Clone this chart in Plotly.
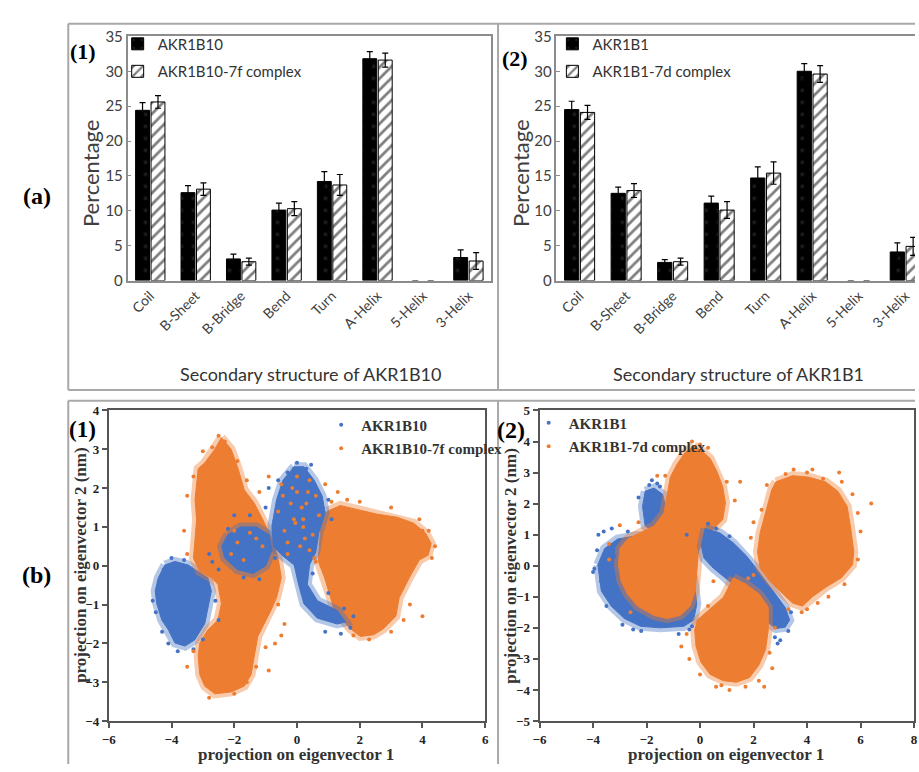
import plotly.graph_objects as go

W, H = 919, 772


def px(x):
    return x / W


def py(y):
    return 1 - y / H


# ---------------- data: secondary structure (panel a) ----------------
categories = ["Coil", "B-Sheet", "B-Bridge", "Bend", "Turn", "A-Helix", "5-Helix", "3-Helix"]
akr1b10 = [24.4, 12.6, 3.1, 10.1, 14.2, 31.8, 0, 3.3]
akr1b10_err = [1.1, 1.0, 0.7, 1.0, 1.4, 1.0, 0, 1.1]
akr1b10_7f = [25.6, 13.1, 2.7, 10.3, 13.7, 31.6, 0, 2.8]
akr1b10_7f_err = [0.9, 0.9, 0.5, 1.0, 1.5, 1.0, 0, 1.2]
akr1b1 = [24.5, 12.5, 2.6, 11.1, 14.7, 30.0, 0, 4.1]
akr1b1_err = [1.2, 0.9, 0.4, 1.0, 1.6, 1.1, 0, 1.3]
akr1b1_7d = [24.1, 12.9, 2.7, 10.1, 15.4, 29.6, 0, 4.9]
akr1b1_7d_err = [1.0, 1.0, 0.5, 1.2, 1.6, 1.2, 0, 1.3]
pct_ticks = [0, 5, 10, 15, 20, 25, 30, 35]

# ---------------- data: PCA projections (panel b), cloud outlines + sparse points ----------------
# b(1) AKR1B10 (blue) clouds
b1_blue_left = [(-4.21, 0.02), (-3.89, 0.11), (-3.47, 0.02), (-3.15, -0.15), (-2.84, -0.31), (-2.73, -0.65),
                (-2.84, -1.07), (-2.94, -1.49), (-3.26, -1.91), (-3.57, -2.07), (-3.89, -1.99), (-4.10, -1.65),
                (-4.31, -1.40), (-4.47, -0.98), (-4.52, -0.65), (-4.42, -0.31)]
b1_blue_center = [(-0.09, 2.55), (0.22, 2.55), (0.55, 2.2), (0.80, 1.80), (0.90, 1.36), (0.70, 0.86),
                  (0.60, 0.36), (0.40, 0.02), (0.33, -0.48), (0.65, -0.90), (1.28, -1.15), (1.55, -1.45),
                  (1.28, -1.50), (0.65, -1.35), (0.22, -0.98), (0.05, -0.48), (-0.09, 0.02), (-0.45, 0.25),
                  (-0.75, 0.50), (-0.80, 1.03), (-0.65, 1.70), (-0.45, 2.20)]
b1_blue_middle = [(-2.2, 0.8), (-1.8, 1.0), (-1.3, 1.0), (-0.9, 0.8), (-0.8, 0.4), (-1.0, 0.0),
                  (-1.4, -0.2), (-1.9, -0.1), (-2.3, 0.2), (-2.4, 0.5)]
# b(1) AKR1B10-7f complex (orange) clouds
b1_orange_left = [(-2.41, 3.30), (-2.10, 3.00), (-1.89, 2.53), (-1.68, 1.95), (-1.36, 1.61), (-1.04, 1.11),
                  (-0.80, 0.69), (-0.60, 0.19), (-0.50, -0.31), (-0.65, -0.82), (-0.83, -1.15), (-1.04, -1.49),
                  (-1.25, -1.82), (-1.36, -2.32), (-1.46, -2.80), (-1.68, -3.10), (-2.10, -3.25), (-2.62, -3.30),
                  (-2.94, -3.10), (-3.10, -2.80), (-3.15, -2.32), (-3.10, -1.99), (-2.84, -1.65), (-2.52, -1.40),
                  (-2.41, -0.98), (-2.52, -0.48), (-2.73, -0.31), (-3.10, -0.15), (-3.30, 0.19), (-3.25, 0.69),
                  (-3.20, 1.19), (-3.25, 1.70), (-3.20, 2.20), (-3.15, 2.50), (-2.94, 2.65), (-2.62, 3.00)]
b1_orange_right = [(0.96, 1.40), (1.38, 1.55), (1.91, 1.45), (2.54, 1.33), (3.18, 1.25), (3.71, 1.10),
                   (4.10, 0.84), (4.28, 0.57), (4.18, 0.27), (3.90, 0.15), (3.58, -0.31), (3.26, -0.82),
                   (3.15, -1.30), (2.76, -1.62), (2.44, -1.78), (2.02, -1.82), (1.70, -1.62), (1.38, -1.30),
                   (1.17, -1.12), (1.07, -0.82), (0.88, -0.31), (0.68, 0.11), (0.72, 0.69), (0.77, 1.11)]
b1_blue_pts_x = [-4.5, -4.3, -4.1, -3.8, -4.4, -4.0, -3.6, -2.6, -2.5, -3.0, 0.0, -0.1, 0.3, -0.9, -0.6, 1.0,
                 1.1, 0.5, 1.7, 1.4, 1.8, 0.9, -2.8, -2.0, -1.5, -1.0, -2.9, -2.7, 0.1, 1.2, -2.2, -1.7,
                 -1.2, -2.5, -0.7, -4.6, -4.25, -3.3, 0.45, -0.3, 1.0, 1.5]
b1_blue_pts_y = [-1.2, -1.7, -2.0, -2.2, -0.4, 0.2, 0.15, -0.9, -1.4, -1.9, 2.65, 2.5, 2.5, 2.0, 2.2, 1.7,
                 1.2, -0.2, -1.6, -1.75, -1.3, -1.7, 0.3, 1.3, 1.3, 1.5, -0.5, 0.1, 2.4, -1.4, 0.95, -0.3,
                 -0.35, -0.1, 0.2, -0.9, -0.1, -2.15, 2.6, 2.4, -0.7, -1.1]
b1_orange_pts_x = [-2.5, -2.3, -2.2, -2.7, -3.0, -3.3, -3.5, -3.6, -3.5, -1.9, -1.6, -1.2, -0.9, -0.5, 0.0,
                   0.4, 0.6, 1.3, 0.9, -0.2, 0.2, -0.4, 0.5, 0.1, -0.3, 0.3, -0.6, 0.7, 4.4, 4.3, 4.0, 3.4,
                   3.0, 2.3, 1.8, 2.7, -0.6, -0.4, -0.7, -1.0, -1.3, -2.8, -3.3, -3.5, -2.0, -1.6, 4.0, 3.6,
                   -0.5, -0.9, 0.0, 0.2, -0.1, 0.4, -0.3, 0.6, 0.35, -0.45, -1.9, -1.5, -1.1, -2.1, -1.7,
                   -1.3, -2.0, 0.15, -0.15, 0.55, 0.25, -0.05, 1.6, 1.1, 2.0, 3.0, 3.9, 4.2]
b1_orange_pts_y = [3.35, 3.2, 3.0, 3.05, 2.95, 2.3, 1.8, 0.9, 0.3, 2.7, 2.2, 1.9, 2.3, 2.1, 2.3,
                   2.2, 1.8, 1.9, 2.1, 1.6, 1.2, 0.9, 0.8, 0.5, 0.3, 1.6, 1.4, 1.3, 0.5, 0.2, 0.9, -1.4,
                   -1.7, -1.9, -1.8, -1.55, -1.0, -1.5, -2.0, -2.1, -2.6, -3.4, -2.2, -2.6, -3.3, -3.0, -1.3,
                   -1.0, -1.8, -2.7, 1.9, 1.0, 1.2, 0.4, 0.6, 0.1, 1.9, 1.8, 0.6, 0.85, 0.5, 0.3, 0.15,
                   0.7, 0.9, 1.5, 2.0, 0.2, 0.7, 1.1, 1.7, 1.65, 1.65, 1.5, 1.2, 0.9]

# b(2) AKR1B1 (blue) clouds
b2_blue_left = [(-3.82, 0.03), (-3.57, 0.55), (-3.08, 0.86), (-2.34, 0.97), (-1.48, 0.86), (-0.74, 0.45),
                (-0.24, -0.39), (-0.12, -1.23), (-0.24, -1.75), (-0.61, -1.95), (-1.48, -2.0), (-2.22, -1.95),
                (-2.83, -1.70), (-3.32, -1.30), (-3.69, -0.81)]
b2_blue_upper = [(-2.05, 2.40), (-1.72, 2.50), (-1.40, 2.30), (-1.28, 1.91), (-1.40, 1.28), (-1.72, 1.10),
                 (-2.05, 1.28), (-2.15, 1.91)]
b2_blue_band = [(0.19, 1.20), (0.75, 1.05), (1.24, 0.74), (1.73, 0.32), (2.10, -0.08), (2.47, -0.50),
                (2.84, -0.92), (3.18, -1.34), (3.35, -1.75), (3.18, -1.98), (2.84, -2.02), (2.59, -1.86),
                (2.35, -1.55), (1.98, -1.23), (1.61, -0.92), (1.24, -0.60), (0.87, -0.34), (0.50, -0.08),
                (0.15, 0.24), (0.05, 0.65)]
# b(2) AKR1B1-7d complex (orange) clouds
b2_orange_main = [(-0.24, 3.85), (0.07, 3.70), (0.38, 3.45), (0.62, 3.06), (0.85, 2.54), (0.95, 2.02),
                  (0.85, 1.49), (0.50, 1.18), (0.13, 0.86), (-0.06, 0.45), (-0.12, -0.18), (-0.18, -0.81),
                  (-0.37, -1.30), (-0.74, -1.60), (-1.23, -1.70), (-1.72, -1.60), (-2.34, -1.30), (-2.71, -0.92),
                  (-2.95, -0.50), (-3.05, 0.03), (-3.00, 0.55), (-2.71, 0.86), (-2.22, 1.07), (-1.72, 1.28),
                  (-1.35, 1.70), (-1.23, 2.33), (-1.11, 2.85), (-0.86, 3.27), (-0.55, 3.65)]
b2_orange_lower = [(1.24, -0.39), (1.73, -0.60), (2.22, -0.92), (2.55, -1.34), (2.55, -2.07), (2.45, -2.70),
                   (2.20, -3.20), (1.85, -3.60), (1.36, -3.75), (0.87, -3.70), (0.38, -3.50), (0.03, -3.10),
                   (-0.15, -2.59), (-0.20, -2.07), (-0.10, -1.75), (0.38, -1.39), (0.87, -1.02), (1.12, -0.60)]
b2_orange_right = [(2.84, 2.70), (3.46, 2.90), (4.07, 2.85), (4.69, 2.70), (5.15, 2.40), (5.50, 1.91),
                   (5.62, 1.28), (5.75, 0.45), (5.70, 0.03), (5.28, -0.39), (4.69, -0.70), (4.20, -1.00),
                   (3.83, -1.30), (3.46, -1.20), (3.09, -0.90), (2.62, -0.50), (2.25, -0.08), (2.15, 0.45),
                   (2.25, 1.07), (2.50, 1.91), (2.68, 2.44)]
b2_blue_pts_x = [-3.8, -3.6, -3.3, -3.95, -3.7, -3.5, -2.9, -2.2, -1.9, -1.6, -2.3, -0.8, -0.4, 3.4, 3.3,
                 2.8, 2.9, 0.3, -0.5, -3.2, -2.7, -4.0, 3.0, -1.8, -1.5, 0.6, 1.1, -3.85, -2.5, -0.3]
b2_blue_pts_y = [1.0, 1.1, 1.2, -0.1, -0.5, -1.3, -1.9, -2.1, 2.6, 2.65, 2.2, -2.2, -2.05, -1.5, -2.1,
                 -2.3, -2.5, 1.35, 1.0, 0.3, 1.1, -0.2, -2.4, 2.75, 2.55, 1.2, 0.95, 0.5, -2.05, -1.95]
b2_orange_pts_x = [-0.3, 0.0, 0.3, -0.6, -1.6, -1.3, 1.0, 1.5, 1.3, -3.4, -3.4, -2.6, -3.0, -2.3, 5.9, 6.4,
                   5.9, 5.7, 5.2, 4.2, 3.5, 2.5, 2.0, 2.0, 4.0, 3.3, 4.8, 2.4, 2.2, 0.8, 0.0, -0.7, -0.4,
                   2.6, 2.8, 1.8, 0.5, 0.3, 4.6, 3.0, 5.0, 1.9, 6.0, 4.4, 3.8, 5.4, 2.3, 4.0, 3.2, 5.3,
                   1.1, 0.6, 1.7, -0.5, 2.7]
b2_orange_pts_y = [4.0, 3.9, 3.8, 3.5, 2.9, 2.9, 2.7, 2.7, 2.1, 0.7, 0.2, -1.5, 1.3, 1.4, 0.2, 2.0,
                   1.7, 2.3, 3.0, 3.1, 3.1, 2.6, 1.4, -0.3, -1.4, -1.4, -1.0, -3.9, -3.7, -3.85, -3.5, -2.6,
                   -3.0, -2.8, -2.0, -0.4, -0.5, -1.3, 2.8, 2.7, 2.2, 0.9, 1.1, -1.2, -1.5, -0.6, 1.8, 3.0,
                   2.95, 2.7, -4.0, -3.9, -3.9, -2.2, -3.3]

x_ticks_b1 = [-6, -4, -2, 0, 2, 4, 6]
y_ticks_b1 = [-4, -3, -2, -1, 0, 1, 2, 3, 4]
x_ticks_b2 = [-6, -4, -2, 0, 2, 4, 6, 8]
y_ticks_b2 = [-5, -4, -3, -2, -1, 0, 1, 2, 3, 4, 5]

BLUE = "#4472C4"
ORANGE = "#ED7D31"
BLUE_HALO = "rgba(68,114,196,0.4)"
ORANGE_HALO = "rgba(237,125,49,0.4)"
SANS = "Lato"
SERIF = "Liberation Serif"

fig = go.Figure()


def add_bars(xa, ya, leg, name1, v1, e1, name2, v2, e2):
    lw1 = [1 if v > 0 else 0 for v in v1]
    lw2 = [1 if v > 0 else 0 for v in v2]
    fig.add_trace(go.Bar(
        x=categories, y=v1, name=name1, xaxis=xa, yaxis=ya, legend=leg, legendgroup=name1,
        marker=dict(color="black", line=dict(color="black", width=lw1),
                    pattern=dict(shape=".", fgcolor="#3a3a3a", bgcolor="black", size=12, solidity=0.08)),
        error_y=dict(type="data", array=e1, color="black", thickness=1.2, width=3)))
    fig.add_trace(go.Bar(
        x=categories, y=v2, name=name2, xaxis=xa, yaxis=ya, legend=leg, legendgroup=name2,
        marker=dict(color="white", line=dict(color="black", width=lw2),
                    pattern=dict(shape="/", fgcolor="black", bgcolor="white", size=8, solidity=0.35)),
        error_y=dict(type="data", array=e2, color="black", thickness=1.2, width=3)))


add_bars("x", "y", "legend", "AKR1B10", akr1b10, akr1b10_err, "AKR1B10-7f complex", akr1b10_7f, akr1b10_7f_err)
add_bars("x2", "y2", "legend2", "AKR1B1", akr1b1, akr1b1_err, "AKR1B1-7d complex", akr1b1_7d, akr1b1_7d_err)


def add_cloud(poly, color, halo, xa, ya):
    xs = [p[0] for p in poly] + [poly[0][0]]
    ys = [p[1] for p in poly] + [poly[0][1]]
    # soft (speckled-looking) fringe drawn first, solid body on top
    fig.add_trace(go.Scatter(x=xs, y=ys, mode="lines", line=dict(color=halo, width=9),
                             hoverinfo="skip", showlegend=False, xaxis=xa, yaxis=ya))
    fig.add_trace(go.Scatter(x=xs, y=ys, mode="lines", fill="toself", fillcolor=color,
                             line=dict(color=color, width=1), hoverinfo="skip", showlegend=False,
                             xaxis=xa, yaxis=ya))


def add_points(xs, ys, color, name, xa, ya, leg):
    fig.add_trace(go.Scatter(
        x=xs, y=ys, mode="markers", name=name, marker=dict(color=color, size=4),
        xaxis=xa, yaxis=ya, legend=leg, legendgroup=name))


# b(1)
add_cloud(b1_blue_left, BLUE, BLUE_HALO, "x3", "y3")
add_cloud(b1_orange_right, ORANGE, ORANGE_HALO, "x3", "y3")
add_cloud(b1_orange_left, ORANGE, ORANGE_HALO, "x3", "y3")
add_cloud(b1_blue_middle, BLUE, BLUE_HALO, "x3", "y3")
add_cloud(b1_blue_center, BLUE, BLUE_HALO, "x3", "y3")
add_points(b1_blue_pts_x, b1_blue_pts_y, BLUE, "AKR1B10", "x3", "y3", "legend3")
add_points(b1_orange_pts_x, b1_orange_pts_y, ORANGE, "AKR1B10-7f complex", "x3", "y3", "legend3")

# b(2)
add_cloud(b2_blue_left, BLUE, BLUE_HALO, "x4", "y4")
add_cloud(b2_blue_upper, BLUE, BLUE_HALO, "x4", "y4")
add_cloud(b2_orange_main, ORANGE, ORANGE_HALO, "x4", "y4")
add_cloud(b2_blue_band, BLUE, BLUE_HALO, "x4", "y4")
add_cloud(b2_orange_lower, ORANGE, ORANGE_HALO, "x4", "y4")
add_cloud(b2_orange_right, ORANGE, ORANGE_HALO, "x4", "y4")
add_points(b2_blue_pts_x, b2_blue_pts_y, BLUE, "AKR1B1", "x4", "y4", "legend4")
add_points(b2_orange_pts_x, b2_orange_pts_y, ORANGE, "AKR1B1-7d complex", "x4", "y4", "legend4")

FRAME = "#8c8c8c"
bar_x = dict(type="category", showgrid=False, showline=True, linecolor=FRAME, linewidth=1.5,
             ticks="", tickangle=-45, tickfont=dict(family=SANS, size=14, color="#404040"), zeroline=False)
bar_y = dict(range=[0, 35], tickvals=pct_ticks, showgrid=False, showline=True, linecolor=FRAME,
             linewidth=1.5, ticks="inside", ticklen=4, tickcolor=FRAME,
             tickfont=dict(family=SANS, size=15, color="#404040"), zeroline=False)
sc_axis = dict(showgrid=False, showline=True, linecolor="#555", linewidth=2, mirror=True, ticks="outside",
               ticklen=5, tickwidth=1.5, tickcolor="#555", zeroline=False,
               tickfont=dict(family=SERIF, size=13, color="#222", weight=700))

legend_common = dict(bgcolor="rgba(0,0,0,0)", xanchor="left", yanchor="top", tracegroupgap=5,
                     traceorder="grouped")

fig.update_layout(
    width=W, height=H, margin=dict(l=0, r=0, t=0, b=0),
    paper_bgcolor="white", plot_bgcolor="white",
    barmode="group", bargap=0.32, bargroupgap=0.1,
    xaxis=dict(bar_x, domain=[px(122), px(490)], anchor="y", mirror=True, range=[-0.5, 7.5]),
    yaxis=dict(bar_y, domain=[py(277), py(27)], anchor="x", mirror=True),
    xaxis2=dict(bar_x, domain=[px(556), 1.0], anchor="y2", mirror=True, range=[-0.5, 7.21]),
    yaxis2=dict(bar_y, domain=[py(277), py(27)], anchor="x2", mirror=False),
    xaxis3=dict(sc_axis, domain=[px(103), px(484)], anchor="y3", range=[-6, 6], tickvals=x_ticks_b1),
    yaxis3=dict(sc_axis, domain=[py(728), py(410)], anchor="x3", range=[-4, 4], tickvals=y_ticks_b1),
    xaxis4=dict(sc_axis, domain=[px(539), px(918)], anchor="y4", range=[-6, 8], tickvals=x_ticks_b2),
    yaxis4=dict(sc_axis, domain=[py(728), py(410)], anchor="x4", range=[-5, 5], tickvals=y_ticks_b2),
    legend=dict(legend_common, x=px(112), y=py(18), font=dict(family=SANS, size=15, color="#333")),
    legend2=dict(legend_common, x=px(552), y=py(18), font=dict(family=SANS, size=15, color="#333")),
    legend3=dict(legend_common, x=px(318), y=py(408), tracegroupgap=1,
                 font=dict(family=SERIF, size=15, color="#333", weight="bold")),
    legend4=dict(legend_common, x=px(528), y=py(406), tracegroupgap=1,
                 font=dict(family=SERIF, size=15, color="#333", weight="bold")),
)

ann = []
# axis titles
ann.append(dict(text="Percentage", x=px(84), y=py(167), textangle=-90, font=dict(family=SANS, size=22, color="#404040")))
ann.append(dict(text="Percentage", x=px(519), y=py(167), textangle=-90, font=dict(family=SANS, size=22, color="#404040")))
ann.append(dict(text="Secondary structure of AKR1B10", x=px(307), y=py(373), font=dict(family=SANS, size=18, color="#333")))
ann.append(dict(text="Secondary structure of AKR1B1", x=px(740), y=py(373), font=dict(family=SANS, size=18, color="#333")))
ann.append(dict(text="projection on eigenvector 1", x=px(293), y=py(762), font=dict(family=SERIF, size=17, color="#333", weight="bold")))
ann.append(dict(text="projection on eigenvector 1", x=px(728), y=py(762), font=dict(family=SERIF, size=17, color="#333", weight="bold")))
ann.append(dict(text="projection on eigenvector 2 (nm)", x=px(75), y=py(569), textangle=-90, font=dict(family=SERIF, size=17, color="#333", weight="bold")))
ann.append(dict(text="projection on eigenvector 2 (nm)", x=px(510), y=py(569), textangle=-90, font=dict(family=SERIF, size=17, color="#333", weight="bold")))
# panel labels
for t, x, y, s in [("(1)", 77, 43, 22), ("(2)", 514, 50, 22), ("(1)", 76, 430, 23), ("(2)", 510, 430, 24),
                   ("(a)", 30, 190, 24), ("(b)", 30, 578, 24)]:
    ann.append(dict(text=t, x=px(x), y=py(y), font=dict(family=SERIF, size=s, color="black", weight="bold")))
for a in ann:
    a.update(xref="paper", yref="paper", showarrow=False, xanchor="center", yanchor="middle")
fig.update_layout(annotations=ann)

# panel frames
shapes = []
BORDER = "#a8a8a8"
for (x0, y0, x1, y1) in [(62, 14, 919, 14), (62, 389, 919, 389), (62, 400, 919, 400),
                         (62, 14, 62, 389), (497, 14, 497, 389), (62, 400, 62, 772), (497, 400, 497, 772)]:
    shapes.append(dict(type="line", xref="paper", yref="paper", x0=px(x0), y0=py(y0), x1=px(x1), y1=py(y1),
                       line=dict(color=BORDER, width=2)))
fig.update_layout(shapes=shapes)

fig.write_html("out.html")
